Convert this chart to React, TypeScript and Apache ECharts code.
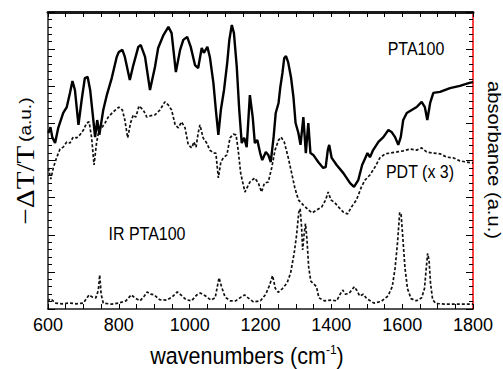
import React, { useEffect, useRef } from "react";
import * as echarts from "echarts";

// wavenumber (cm-1), value (a.u.)
const ptaWn = [601,607,612,620,629,643,653,662,669,676,686,695,704,712,719,728,733,739,745,756,766,780,794,800,810,817,831,841,855,862,874,888,902,911,926,940,949,961,973,982,993,1003,1015,1024,1034,1040,1050,1057,1067,1074,1081,1088,1097,1106,1112,1119,1125,1133,1140,1147,1154,1161,1170,1178,1184,1191,1199,1205,1215,1222,1229,1237,1243,1251,1256,1262,1267,1272,1278,1286,1293,1299,1307,1313,1321,1328,1335,1341,1349,1363,1377,1384,1390,1394,1401,1415,1434,1453,1464,1476,1487,1495,1502,1509,1518,1533,1547,1561,1570,1580,1589,1596,1603,1613,1627,1641,1655,1664,1671,1679,1688,1707,1735,1763,1790,1800];
const ptaVal = [4.74,4.9,4.63,4.47,4.88,5.28,5.44,5.82,6.14,5.9,4.96,5.63,6.22,6.25,5.9,5.09,4.63,5.09,4.69,5.36,5.76,6.22,6.79,6.92,6.98,6.79,6.17,6.57,7.06,7.11,6.79,5.9,6.52,7.03,7.38,7.6,7.43,6.38,6.98,7.25,7.33,7.06,6.57,6.49,7.03,6.9,7.06,6.79,6.09,5.36,4.69,5.36,5.9,6.63,7.25,7.65,7.43,6.52,5.36,4.47,4.61,4.36,5.76,5.17,4.47,4.55,4.2,4.01,4.23,4.15,3.96,4.63,5.28,5.55,5.98,6.36,6.76,6.81,6.65,6.25,5.71,5.01,4.74,4.42,5.17,4.2,5.01,4.2,4.15,3.96,3.8,3.82,4.28,4.42,4.07,3.88,3.66,3.39,3.29,3.47,3.88,4.05,4.2,4.09,4.28,4.5,4.63,4.82,4.77,4.63,4.42,4.63,5.09,5.28,5.36,5.44,5.58,5.44,5.09,5.55,5.82,5.85,5.95,6.01,6.09,6.11];

const pdtWn = [601,608,615,624,634,643,653,662,671,681,690,700,709,716,723,730,737,744,752,761,770,784,800,810,817,825,833,841,848,857,869,879,888,902,916,930,940,949,959,968,977,987,996,1006,1012,1018,1024,1029,1038,1048,1057,1067,1074,1081,1088,1095,1105,1114,1123,1131,1137,1144,1156,1170,1184,1194,1203,1211,1222,1232,1241,1251,1258,1267,1278,1288,1297,1307,1321,1335,1346,1359,1373,1384,1391,1399,1410,1420,1434,1446,1457,1471,1485,1495,1509,1523,1537,1552,1566,1585,1603,1622,1641,1655,1669,1688,1707,1726,1745,1763,1782,1800];
const pdtVal = [3.8,3.5,3.8,4.07,4.31,4.36,4.5,4.47,4.63,4.61,4.69,4.82,5.01,5.04,4.63,3.88,4.47,4.82,4.88,5.01,5.17,5.31,5.44,5.36,5.09,4.61,5.01,5.23,5.17,5.47,5.36,5.17,5.2,5.23,5.36,5.58,5.49,5.36,4.96,4.88,5.04,4.88,4.42,4.34,4.5,4.36,4.74,4.96,4.61,4.47,4.28,4.2,4.2,3.53,3.96,4.07,4.15,4.61,4.71,4.69,4.28,3.66,3.15,3.42,3.53,3.39,3.15,3.39,3.42,3.82,4.28,4.55,4.63,4.5,4.09,3.66,3.26,2.94,2.8,2.67,2.59,2.67,2.75,2.94,3.15,2.94,2.86,2.75,2.61,2.56,2.75,2.94,3.29,3.47,3.61,3.82,4.07,4.18,4.2,4.23,4.26,4.31,4.28,4.34,4.23,4.2,4.18,4.09,4.07,3.99,3.96,3.93];

const irWn = [600,605,612,620,640,660,680,700,710,716,725,735,742,746,750,756,780,800,820,835,845,860,872,880,890,900,915,935,950,965,975,990,1005,1020,1030,1045,1060,1072,1078,1083,1090,1100,1115,1130,1145,1155,1165,1180,1200,1215,1226,1234,1242,1250,1262,1275,1285,1295,1302,1308,1312,1316,1319,1323,1327,1331,1336,1342,1350,1358,1365,1380,1400,1415,1425,1432,1440,1450,1465,1472,1480,1490,1500,1520,1540,1560,1572,1580,1587,1593,1597,1602,1608,1615,1625,1640,1655,1663,1668,1672,1676,1680,1686,1695,1720,1760,1800];
const irVal = [0.2,0.27,0.24,0.16,0.14,0.16,0.14,0.16,0.3,0.38,0.32,0.3,0.5,0.92,0.4,0.16,0.13,0.16,0.22,0.38,0.3,0.22,0.35,0.46,0.4,0.38,0.25,0.24,0.32,0.46,0.38,0.25,0.22,0.38,0.43,0.35,0.24,0.3,0.6,0.84,0.6,0.32,0.22,0.22,0.32,0.38,0.3,0.19,0.22,0.4,0.65,0.9,0.55,0.45,0.55,0.7,0.97,1.5,2.0,2.6,2.7,2.2,1.59,2.0,2.3,1.9,1.13,0.75,0.68,0.6,0.3,0.22,0.24,0.22,0.4,0.51,0.4,0.42,0.6,0.5,0.35,0.4,0.28,0.16,0.2,0.35,0.6,1.1,1.8,2.6,2.55,1.9,1.1,0.55,0.28,0.22,0.3,0.55,1.1,1.5,1.3,0.7,0.25,0.15,0.13,0.13,0.13];

const xTicks = [600, 800, 1000, 1200, 1400, 1600, 1800];

const SANS = "'Liberation Sans', Arial, sans-serif";
const SERIF = "'Liberation Serif', 'Times New Roman', serif";

const GRID = { left: 48, right: 30, top: 12, bottom: 60 };
const W = 503;
const H = 369;

function zip(a: number[], b: number[]) {
  return a.map((x, i) => [x, b[i]]);
}

function xAxisOpt(pos: string, labels: boolean, color: string, width: number) {
  return {
    type: "value",
    position: pos,
    min: xTicks[0],
    max: xTicks[xTicks.length - 1],
    interval: 50,
    axisLine: { show: true, onZero: false, lineStyle: { color, width } },
    axisTick: { show: true, inside: true, length: 5, lineStyle: { color: "black", width: 1 } },
    splitLine: { show: false },
    axisLabel: labels
      ? {
          show: true,
          fontSize: 18,
          color: "#000",
          fontFamily: SANS,
          margin: 7,
          formatter: (v: number) => (xTicks.indexOf(v) >= 0 ? String(v) : ""),
        }
      : { show: false },
  };
}

function yAxisOpt(pos: string, interval: number, len: number, line: boolean, color: string, width: number) {
  return {
    type: "value",
    position: pos,
    min: 0,
    max: 8,
    interval,
    axisLine: { show: line, onZero: false, lineStyle: { color, width } },
    axisTick: { show: true, inside: true, length: len, lineStyle: { color: "black", width: 1 } },
    splitLine: { show: false },
    axisLabel: { show: false },
  };
}

export default function App() {
  const ref = useRef<HTMLDivElement>(null);
  useEffect(() => {
    if (!ref.current) return;
    const chart = echarts.init(ref.current, undefined, { renderer: "svg" });
    chart.setOption({
      animation: false,
      grid: GRID,
      xAxis: [xAxisOpt("bottom", true, "#1a1a1a", 1.5), xAxisOpt("top", false, "#1a1a1a", 3)],
      yAxis: [
        yAxisOpt("left", 1, 7, true, "#222222", 1.5),
        yAxisOpt("left", 0.2, 4, false, "#222222", 1.5),
        yAxisOpt("right", 1, 7, true, "red", 1.5),
        yAxisOpt("right", 0.2, 4, false, "red", 1.5),
      ],
      series: [
        {
          type: "line",
          name: "PTA100",
          data: zip(ptaWn, ptaVal),
          showSymbol: false,
          lineStyle: { color: "#000", width: 2.4 },
        },
        {
          type: "line",
          name: "PDT (x 3)",
          data: zip(pdtWn, pdtVal),
          showSymbol: false,
          lineStyle: { color: "#111", width: 1.7, type: [3, 2] },
        },
        {
          type: "line",
          name: "IR PTA100",
          data: zip(irWn, irVal),
          showSymbol: false,
          lineStyle: { color: "#111", width: 1.7, type: [3, 2] },
        },
      ],
      graphic: [
        {
          type: "text",
          x: 416,
          y: 49,
          scaleY: 1.15,
          style: { text: "PTA100", fontSize: 16, fontFamily: SANS, fill: "#000", align: "center", verticalAlign: "middle" },
        },
        {
          type: "text",
          x: 420,
          y: 172,
          scaleY: 1.15,
          style: { text: "PDT (x 3)", fontSize: 16, fontFamily: SANS, fill: "#000", align: "center", verticalAlign: "middle" },
        },
        {
          type: "text",
          x: 147,
          y: 234,
          scaleY: 1.15,
          style: { text: "IR PTA100", fontSize: 16, fontFamily: SANS, fill: "#000", align: "center", verticalAlign: "middle" },
        },
        {
          type: "text",
          x: 247,
          y: 356,
          scaleY: 1.1,
          style: {
            text: "{a|wavenumbers (cm}{s|-1}{a|)}",
            align: "center",
            verticalAlign: "middle",
            rich: {
              a: { fontSize: 21.5, fontFamily: SANS, fill: "#000", lineHeight: 24 },
              s: { fontSize: 12, fontFamily: SANS, fill: "#000", verticalAlign: "top", lineHeight: 24, padding: [0, 0, 12, 0] },
            },
          },
        },
        {
          type: "text",
          x: 25,
          y: 161,
          rotation: Math.PI / 2,
          scaleX: 1.12,
          style: {
            text: "{t|−ΔT/T} {u|(a.u.)}",
            align: "center",
            verticalAlign: "middle",
            rich: {
              t: { fontSize: 26, fontFamily: SERIF, fill: "#000" },
              u: { fontSize: 17, fontFamily: SANS, fill: "#000" },
            },
          },
        },
        {
          type: "text",
          x: 494,
          y: 160,
          rotation: -Math.PI / 2,
          scaleX: 1.12,
          style: { text: "absorbance (a.u.)", fontSize: 18, fontFamily: SANS, fill: "#000", align: "center", verticalAlign: "middle" },
        },
      ],
    });
    return () => chart.dispose();
  }, []);
  return <div ref={ref} style={{ width: W, height: H, position: "absolute", left: 0, top: 0 }} />;
}
